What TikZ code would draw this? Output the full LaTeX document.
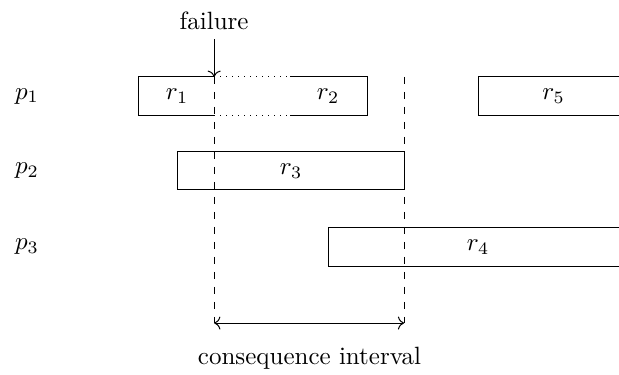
\documentclass[tikz,border=0pt]{standalone}
\usepackage{mathtools}
\usetikzlibrary{arrows.meta}

\begin{document}
\begin{tikzpicture}
[job/.style={draw,thin}
,gap/.style={dotted}
,cut/.style={dashed}
,lab/.style={inner sep=1pt}
,fl/.style={->}
,iv/.style={<->}]
\useasboundingbox (0,0) rectangle (8.70,-5.27);

% processes
\node[lab] (p1) at (0.38,-1.35) {$p_1$};
\node[lab] (p2) at (0.38,-2.40) {$p_2$};
\node[lab] (p3) at (0.38,-3.47) {$p_3$};

% p1: r1, aborted, then r2, r5
\draw[job] (3.01,-1.08) -- (1.94,-1.08) -- (1.94,-1.62) -- (3.01,-1.62);
\draw[gap] (3.01,-1.08) -- (4.08,-1.08);
\draw[gap] (3.01,-1.62) -- (4.08,-1.62);
\draw[job] (4.08,-1.08) -- (5.16,-1.08) -- (5.16,-1.62) -- (4.08,-1.62);
\draw[job] (8.80,-1.08) -- (6.73,-1.08) -- (6.73,-1.62) -- (8.80,-1.62);
\node (r1) at (2.49,-1.35) {$r_1$};
\node (r2) at (4.61,-1.35) {$r_2$};
\node (r5) at (7.78,-1.35) {$r_5$};

% p2
\draw[job] (2.49,-2.13) rectangle (5.68,-2.67);
\node (r3) at (4.09,-2.40) {$r_3$};

% p3
\draw[job] (8.80,-3.20) -- (4.62,-3.20) -- (4.62,-3.74) -- (8.80,-3.74);
\node (r4) at (6.72,-3.47) {$r_4$};

% failure and interval
\coordinate (fa) at (3.01,-0.55);
\coordinate (f0) at (3.01,-1.08);
\coordinate (f1) at (3.01,-4.54);
\coordinate (e0) at (5.68,-1.08);
\coordinate (e1) at (5.68,-4.54);
\node (fail) at (3.01,-0.29) {failure};
\draw[fl] (fa) -- (f0);
\draw[cut] (f0) -- (f1);
\draw[cut] (e0) -- (e1);
\draw[iv] (f1) -- (e1);
\node (ci) at (4.35,-5.03) {consequence interval};
\end{tikzpicture}
\end{document}
